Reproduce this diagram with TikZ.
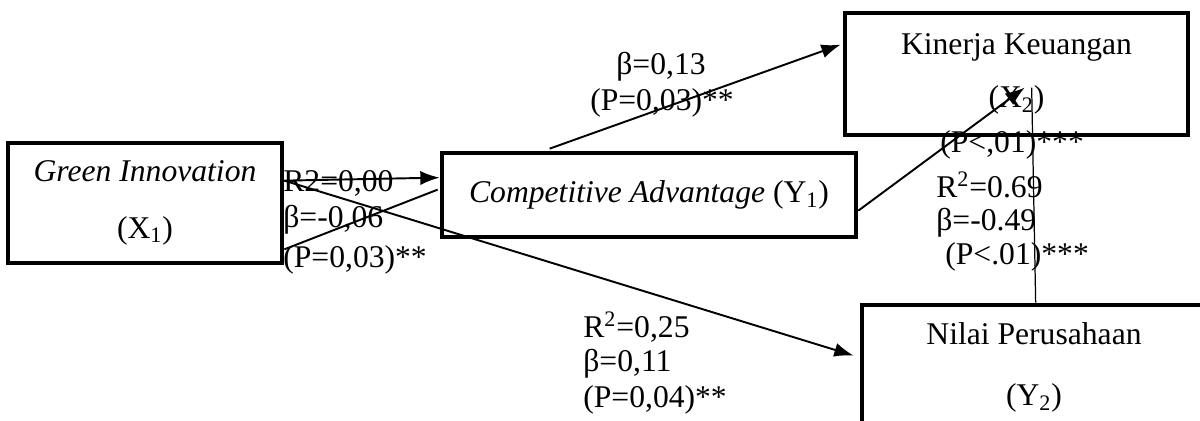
\documentclass[tikz,border=0pt]{standalone}
\usepackage{fontspec}
\setmainfont{Liberation Serif}
\usetikzlibrary{arrows.meta,calc}
\begin{document}
\begin{tikzpicture}[x=0.02cm,y=-0.02cm,
  box/.style={draw,line width=2.7pt,inner sep=0pt,align=center,font=\fontsize{18}{22}\selectfont},
  lbl/.style={inner sep=0pt,font=\fontsize{18}{22}\selectfont},
  conn/.style={line width=1.1pt,-{Latex[length=11pt,width=8pt]}},
  plainline/.style={line width=1.1pt},
  thinline/.style={line width=0.7pt}]
\clip (0,0) rectangle (1200,421);
\node[box,minimum width=5.48cm,minimum height=2.4cm] (GI) at (145,203)
  {\textit{Green Innovation}\\[10pt](X\textsubscript{1})};
\node[box,minimum width=8.28cm,minimum height=1.68cm] (CA) at (649,195)
  {\textit{Competitive Advantage} (Y\textsubscript{1})};
\node[box,minimum width=6.86cm,minimum height=2.44cm] (KK) at (1016.5,74)
  {Kinerja Keuangan\\[8pt](X\textsubscript{2})};
\node[box,minimum width=6.88cm,minimum height=2.5cm] (NP) at (1034,367.5)
  {Nilai Perusahaan\\[12.6pt](Y\textsubscript{2})};

\coordinate (g1) at ($(GI.north east)+(0,40)$);
\coordinate (g2) at ($(GI.south east)+(0,-16)$);
\coordinate (c1) at ($(CA.north west)+(0,27)$);
\coordinate (c2) at ($(CA.north west)+(-2,39)$);
\coordinate (c3) at ($(CA.north west)+(110,-2)$);
\coordinate (c4) at ($(CA.north east)+(0,60)$);
\coordinate (k1) at ($(KK.north west)+(-2,34)$);
\coordinate (k2) at ($(KK.north west)+(182,77)$);
\coordinate (k3) at ($(KK.north west)+(189,77)$);
\coordinate (n1) at ($(NP.north west)+(-6,53)$);
\coordinate (n2) at ($(NP.north west)+(176,0)$);

\draw[conn] (g1) -- (c1);
\draw[plainline] (g2) -- (c2);
\draw[conn] (g1) -- (n1);
\draw[conn] (c3) -- (k1);
\draw[conn] (c4) -- (k2);
\draw[thinline] (n2) -- (k3);

\node[lbl,anchor=west] (l1) at (283,183) {R2=0,00};
\node[lbl,anchor=west] (l2) at (283,220) {β=-0,06};
\node[lbl,anchor=west] (l3) at (283,260) {(P=0,03)**};
\node[lbl] (l4) at (661,67) {β=0,13};
\node[lbl] (l5) at (662,103) {(P=0,03)**};
\node[lbl,anchor=west] (l6) at (940,145) {(P<,01)***};
\node[lbl,anchor=west] (l7) at (936,185) {R\textsuperscript{2}=0.69};
\node[lbl,anchor=west] (l8) at (936,223) {β=-0.49};
\node[lbl,anchor=west] (l9) at (945,257) {(P<.01)***};
\node[lbl,anchor=west] (l10) at (583,327) {R\textsuperscript{2}=0,25};
\node[lbl,anchor=west] (l11) at (583,364) {β=0,11};
\node[lbl,anchor=west] (l12) at (583,400) {(P=0,04)**};
\end{tikzpicture}
\end{document}
